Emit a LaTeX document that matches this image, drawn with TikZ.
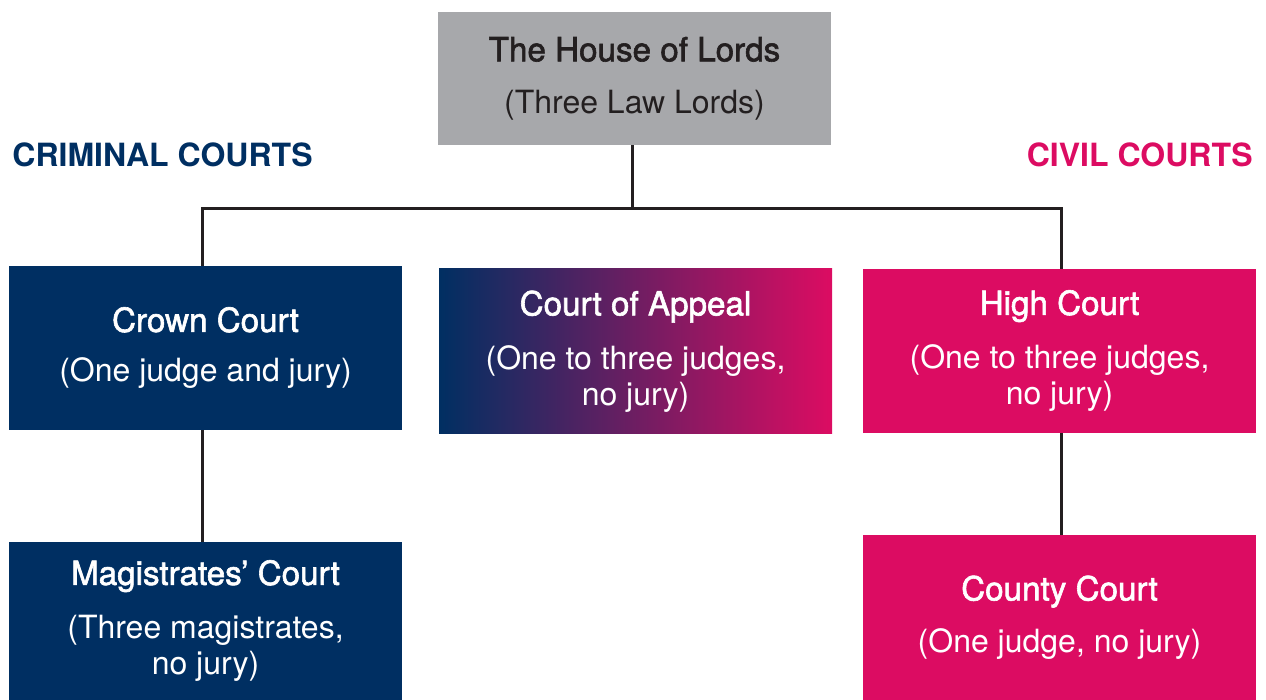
\documentclass[tikz,border=0pt]{standalone}
\usepackage{fontspec}
\setmainfont{TeX Gyre Heros}
\newfontfamily\titlefontbase[FakeBold=1.8]{TeX Gyre Heros}
\newcommand{\titlefont}{\titlefontbase\fontsize{16.6pt}{18pt}\selectfont}
\usetikzlibrary{positioning}
\definecolor{navy}{RGB}{0,47,98}
\definecolor{magentaC}{RGB}{220,12,98}
\definecolor{lordgray}{RGB}{167,168,171}
\definecolor{inkC}{RGB}{35,31,32}
\tikzset{
  court/.style={rectangle, inner sep=0pt, minimum width=196.5pt, align=center,
     text=white, font=\fontsize{16pt}{18pt}\selectfont},
  link/.style={draw=inkC, line width=1.5pt},
  sidelabel/.style={font=\fontsize{16pt}{18pt}\selectfont\bfseries, inner sep=0pt}
}
\begin{document}
\begin{tikzpicture}[x=0.5pt,y=-0.5pt]
\useasboundingbox (0,0) rectangle (1266,700);
\node[court, fill=lordgray, text=inkC, minimum height=66.5pt] (lords) at (634.5,78.5)
  {{\titlefont The House of Lords}\\[8pt](Three Law Lords)};
\node[court, fill=navy, minimum height=82pt] (crown) at (205.5,348)
  {{\titlefont Crown Court}\\[7pt](One judge and jury)};
\node[court, left color=navy, right color=magentaC, minimum height=82.5pt] (appeal) at (635.5,351.5)
  {{\titlefont Court of Appeal}\\[9pt](One to three judges,\\no jury)};
\node[court, fill=magentaC, minimum height=82pt] (high) at (1059.5,351)
  {{\titlefont High Court}\\[9pt](One to three judges,\\no jury)};
\node[court, fill=navy, minimum height=79pt] (mag) at (205.5,621)
  {{\titlefont Magistrates’ Court}\\[9pt](Three magistrates,\\no jury)};
\node[court, fill=magentaC, minimum height=82.5pt] (county) at (1059.5,617.5)
  {{\titlefont County Court}\\[8pt](One judge, no jury)};
\node[sidelabel, text=navy, anchor=base west] (crimlabel) at (12,167) {CRIMINAL COURTS};
\node[sidelabel, text=magentaC, anchor=base east] (civlabel) at (1253,167) {CIVIL COURTS};
\coordinate (bar) at (632,209);
\coordinate (cl) at (202,209);
\coordinate (cr) at (1061,209);
\draw[link] (lords.south -| bar) -- (bar);
\draw[link] (cl |- crown.north) -- (cl) -- (cr) -- (cr |- high.north);
\draw[link] (cl |- crown.south) -- (cl |- mag.north);
\draw[link] (cr |- high.south) -- (cr |- county.north);
\end{tikzpicture}
\end{document}
